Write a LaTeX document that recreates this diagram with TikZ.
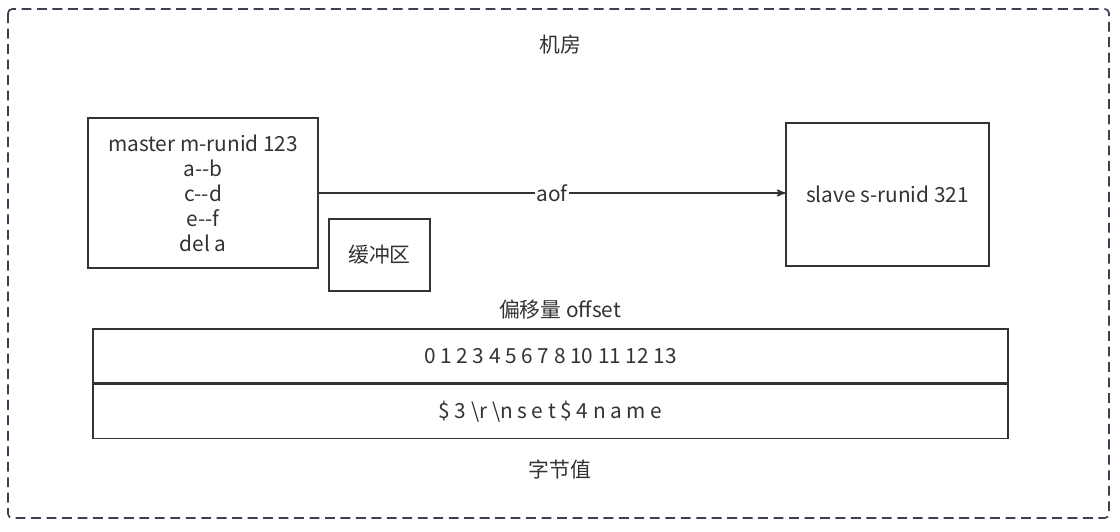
\documentclass[tikz,border=0pt]{standalone}
\usepackage{fontspec}
\setmainfont{Noto Sans CJK SC}
\usepackage{tikz}
\usetikzlibrary{shapes, calc, arrows, positioning}
\definecolor{ink}{HTML}{333333}
\definecolor{frame}{HTML}{3A4150}

\begin{document}
\begin{tikzpicture}[x=0.025cm,y=-0.025cm,>=stealth',semithick,font=\fontsize{14.8}{17.8}\selectfont,text=ink]
	\tikzset{box/.style={draw=ink, line width=1.1pt, rectangle, align=center, inner sep=0pt}}
	\useasboundingbox[fill=white] (0,0) rectangle (1120,532);
	\draw[frame, line width=1.2pt, dash pattern=on 7pt off 4pt, rounded corners=3pt] (8,9) rectangle (1109,518);
	\node (title) at (560,45) {机房};
	\node[box, minimum width=5.75cm, minimum height=3.75cm] (master) at (203,193) {master m-runid 123\\a\mbox{-}\mbox{-}b\\c\mbox{-}\mbox{-}d\\e\mbox{-}\mbox{-}f\\del a};
	\node[box, minimum width=2.525cm, minimum height=1.8cm] (buf) at (379.5,255) {缓冲区};
	\node[box, minimum width=5.075cm, minimum height=3.575cm] (slave) at (887.5,194.5) {slave s-runid 321};
	\node (offlbl) at (560,310) {偏移量 offset};
	\node[box, minimum width=22.875cm, minimum height=1.35cm] (off) at (550.5,356) {0 1 2 3 4 5 6 7 8 10 11 12 13};
	\node[box, minimum width=22.875cm, minimum height=1.35cm, below=0pt of off] (byt) {\$ 3 \textbackslash r \textbackslash n s e t \$ 4 n a m e};
	\node (bytlbl) at (560,470) {字节值};
	\path
		(master.east)
			edge [draw=ink, line width=1.1pt, ->] node[fill=white, inner sep=1pt] {aof} (master.east -| slave.west);
\end{tikzpicture}
\end{document}
